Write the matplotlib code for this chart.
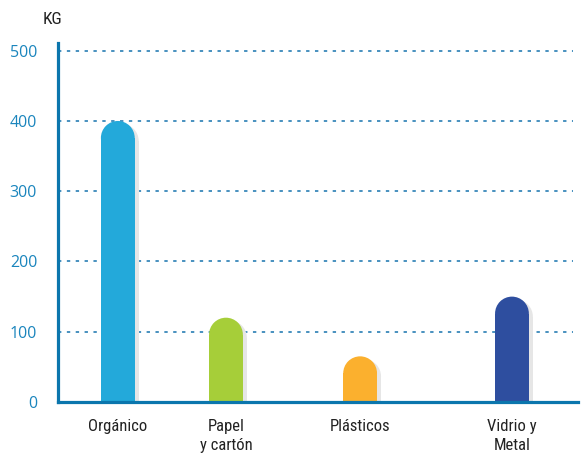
import matplotlib
matplotlib.use("Agg")
import matplotlib.pyplot as plt
from matplotlib.patches import Rectangle, Ellipse
from matplotlib import font_manager

categories = ["Orgánico", "Papel\ny cartón", "Plásticos", "Vidrio y\nMetal"]
values = [400, 120, 65, 150]
colors = ["#23a9da", "#a6ce39", "#fbb02e", "#2e4e9f"]
yticks = [0, 100, 200, 300, 400, 500]

# bar centres (x axis runs 0..10)
positions = [1.15, 3.23, 5.81, 8.73]
bar_w = 0.65

names = {f.name for f in font_manager.fontManager.ttflist}
narrow = [n for n in ["Liberation Sans Narrow", "DejaVu Sans Condensed", "Roboto Condensed"] if n in names]
cond = narrow + ["DejaVu Sans"]

W, H = 5.81, 4.57
fig = plt.figure(figsize=(W, H), dpi=100)
ax_l, ax_b, ax_w, ax_h = 58 / 581, 1 - 402 / 457, 520 / 581, (402 - 43) / 457
ax = fig.add_axes([ax_l, ax_b, ax_w, ax_h])
ymax = 511
ax.set_xlim(0, 10)
ax.set_ylim(0, ymax)

px_x = 10 / (ax_w * W * 100)      # data units per pixel, x
px_y = ymax / (ax_h * H * 100)    # data units per pixel, y

for v in yticks[1:]:
    ax.axhline(v, xmax=0.99, color="#1673ae", lw=1.1, ls=(0, (2.2, 3.6)), zorder=1)

r_y = bar_w / 2 / px_x * px_y
for x, v, c in zip(positions, values, colors):
    # shadow
    sx, sy = x + 4 * px_x, v - 3 * px_y
    ax.add_patch(Rectangle((sx - bar_w / 2, 0), bar_w, sy - r_y, color="#e6e6e6", lw=0, zorder=2))
    ax.add_patch(Ellipse((sx, sy - r_y), bar_w, 2 * r_y, color="#e6e6e6", lw=0, zorder=2))
    # bar
    ax.add_patch(Rectangle((x - bar_w / 2, 0), bar_w, v - r_y, color=c, lw=0, zorder=3))
    ax.add_patch(Ellipse((x, v - r_y), bar_w, 2 * r_y, color=c, lw=0, zorder=3))

for s in ["top", "right"]:
    ax.spines[s].set_visible(False)
for s in ["left", "bottom"]:
    ax.spines[s].set_color("#0b76ad")
    ax.spines[s].set_linewidth(2.3)
    ax.spines[s].set_zorder(5)

ax.set_yticks(yticks)
ax.set_yticklabels([str(t) for t in yticks], color="#1a85bd", fontsize=11.5,
                   family=["Open Sans", "DejaVu Sans"])
ax.tick_params(axis="y", length=0, pad=15)
ax.set_xticks(positions)
ax.set_xticklabels(categories, fontsize=12, color="#222222", linespacing=1.4,
                   family=cond, fontstretch="condensed")
ax.tick_params(axis="x", length=0, pad=12)

fig.text(52 / 581, 1 - 19 / 457, "KG", ha="center", va="center", fontsize=12.5,
         color="#222222", family=cond, fontstretch="condensed")

fig.savefig("out.png", dpi=100)
plt.close()
